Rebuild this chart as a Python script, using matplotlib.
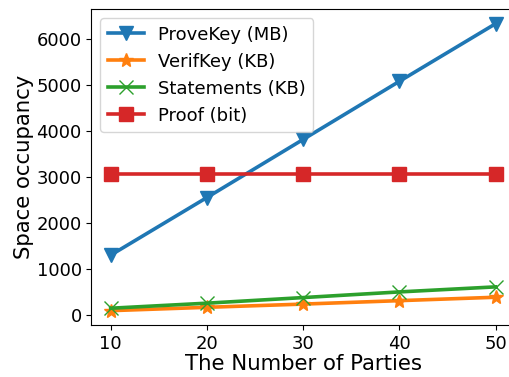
import numpy as np
import matplotlib
matplotlib.use("Agg")
import matplotlib.pyplot as plt

parties = [10, 20, 30, 40, 50]
prove_key = [1300, 2555, 3820, 5085, 6340]
verif_key = [92, 165, 235, 310, 384]
statements = [145, 255, 377, 500, 610]
proof = [3072, 3072, 3072, 3072, 3072]

fig = plt.figure(figsize=(5.09, 3.77), dpi=100)
ax = fig.add_axes([0.1796, 0.1379, 0.832, 0.8374])

ax.plot(parties, prove_key, marker='v', markersize=10, linewidth=2.6, label='ProveKey (MB)')
ax.plot(parties, verif_key, marker='*', markersize=10, linewidth=2.6, label='VerifKey (KB)')
ax.plot(parties, statements, marker='x', markersize=10, linewidth=2.6, label='Statements (KB)')
ax.plot(parties, proof, marker='s', markersize=10, linewidth=2.6, label='Proof (bit)')

ax.set_xticks(parties)
ax.tick_params(labelsize=13)
ax.set_xlabel('The Number of Parties', fontsize=15.3, labelpad=1)
ax.set_ylabel('Space occupancy', fontsize=15.3, labelpad=2)
ax.legend(loc='upper left', fontsize=13)

fig.savefig('out.png', dpi=100)
